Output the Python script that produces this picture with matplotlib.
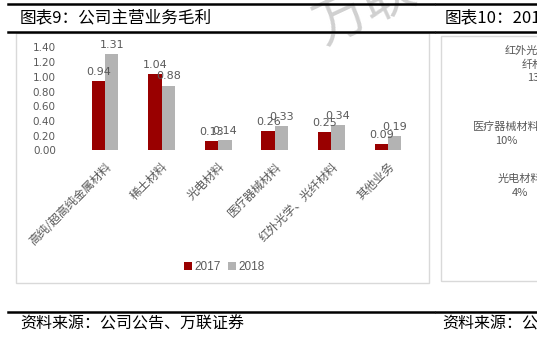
import numpy as np
import matplotlib.pyplot as plt
from matplotlib.lines import Line2D
from matplotlib.patches import Rectangle

plt.rcParams['font.family'] = ['Noto Sans CJK SC', 'DejaVu Sans']

categories = ['高纯/超高纯金属材料', '稀土材料', '光电材料', '医疗器械材料', '红外光学、光纤材料', '其他业务']
margin_2017 = [0.94, 1.04, 0.13, 0.26, 0.25, 0.09]
margin_2018 = [1.31, 0.88, 0.14, 0.33, 0.34, 0.19]
y_ticks = [0.0, 0.2, 0.4, 0.6, 0.8, 1.0, 1.2, 1.4]

red = '#990000'
grey = '#b3b3b3'
txt = '#595959'

W, H = 537, 343
fig = plt.figure(figsize=(W / 100, H / 100), dpi=100)


def fx(px):
    return px / W


def fy(py):
    return 1 - py / H


# header / footer rules
for y in (4, 32, 312):
    fig.add_artist(Line2D([fx(8), fx(434)], [fy(y), fy(y)], color='black', lw=1.8))
    fig.add_artist(Line2D([fx(436), fx(537)], [fy(y), fy(y)], color='black', lw=1.8))

# watermark
fig.text(fx(365), fy(8), '万联', fontsize=38, color='#d0d0d0', rotation=25,
         ha='center', va='center', zorder=-5)

# chart frames
fig.add_artist(Rectangle((fx(16), fy(283)), fx(429 - 16), (283 - 33) / H,
                         fill=False, edgecolor='#d9d9d9', lw=1))
fig.add_artist(Rectangle((fx(441), fy(281)), fx(560 - 441), (281 - 36) / H,
                         fill=False, edgecolor='#d9d9d9', lw=1))

fig.text(fx(20), fy(19), '图表9：公司主营业务毛利', fontsize=12, color='black', va='center')
fig.text(fx(445), fy(19), '图表10：2018年公司主营业务收入构成', fontsize=12, color='black', va='center')
fig.text(fx(20), fy(324), '资料来源：公司公告、万联证券', fontsize=11.5, color='black', va='center')
fig.text(fx(442), fy(324), '资料来源：公司公告、万联证券', fontsize=11.5, color='black', va='center')

# pie labels of the second chart
fig.text(fx(538), fy(45), '红外光学、光\n纤材料\n13%', fontsize=8, color=txt,
         ha='center', va='top', linespacing=1.45)
fig.text(fx(506), fy(122), '医疗器械材料\n10%', fontsize=8, color=txt,
         ha='center', va='top', linespacing=1.45)
fig.text(fx(520), fy(174), '光电材料\n4%', fontsize=8, color=txt,
         ha='center', va='top', linespacing=1.45)

ax = fig.add_axes([fx(76.7), fy(150.5), fx(416.3 - 76.7), (150.5 - 47.3) / H])
x = np.arange(len(categories))
w = 0.235
b1 = ax.bar(x - w / 2, margin_2017, w, color=red, label='2017')
b2 = ax.bar(x + w / 2, margin_2018, w, color=grey, label='2018')

for bars, vals in ((b1, margin_2017), (b2, margin_2018)):
    for r, v in zip(bars, vals):
        ax.annotate(f'{v:.2f}', (r.get_x() + r.get_width() / 2, v), xytext=(0, 3),
                    textcoords='offset points', ha='center', va='bottom',
                    fontsize=8, color=txt, family='DejaVu Sans')

ax.set_xlim(-0.5, len(categories) - 0.5)
ax.set_ylim(0, 1.4)
ax.set_yticks(y_ticks)
ax.set_yticklabels([f'{t:.2f}' for t in y_ticks], family='DejaVu Sans')
ax.tick_params(axis='y', length=0, labelsize=7.5, labelcolor=txt, pad=15)
ax.set_xticks(x)
ax.set_xticklabels(categories, rotation=45, ha='right', rotation_mode='anchor',
                   fontsize=8.5, color=txt)
ax.tick_params(axis='x', length=0, pad=7)
for s in ax.spines.values():
    s.set_visible(False)
ax.patch.set_alpha(0)

fig.legend(handles=[b1, b2], loc='center', bbox_to_anchor=(fx(224), fy(267)), ncol=2,
           frameon=False, handlelength=0.7, handleheight=0.7,
           handletextpad=0.2, columnspacing=0.6, prop={'family': 'Liberation Sans', 'size': 8.5},
           labelcolor=txt)

fig.savefig('out.png', dpi=100)
